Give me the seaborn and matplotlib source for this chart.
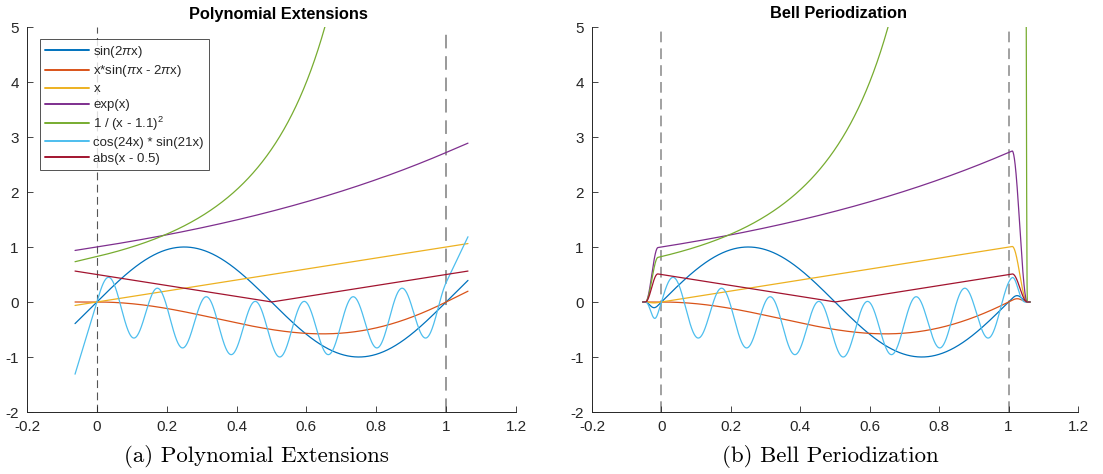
import numpy as np
import pandas as pd
import matplotlib
matplotlib.use("Agg")
import matplotlib.pyplot as plt
import seaborn as sns

# Test functions (legend text and the expression each one plots)
labels = [r"sin(2$\pi$x)", r"x*sin($\pi$x - 2$\pi$x)", "x", "exp(x)",
          r"1 / (x - 1.1)$^2$", "cos(24x) * sin(21x)", "abs(x - 0.5)"]
funcs = [
    lambda x: np.sin(2 * np.pi * x),
    lambda x: x * np.sin(np.pi * x - 2 * np.pi * x),
    lambda x: x,
    lambda x: np.exp(x),
    lambda x: 1.0 / (x - 1.1) ** 2,
    lambda x: np.cos(24 * x) * np.sin(21 * x),
    lambda x: np.abs(x - 0.5),
]
colors = ["#0072BD", "#D95319", "#EDB120", "#7E2F8E", "#77AC30", "#4DBEEE", "#A2142F"]

# Extended domain and bell taper settings
ext_left, ext_right = -0.0625, 1.0625
bell_start, bell_end = -0.054, 1.062
rise = (-0.046, -0.010)
fall = (1.010, 1.054)

xticks = [-0.2, 0, 0.2, 0.4, 0.6, 0.8, 1, 1.2]
xticklabels = ["-0.2", "0", "0.2", "0.4", "0.6", "0.8", "1", "1.2"]
yticks = [-2, -1, 0, 1, 2, 3, 4, 5]
yticklabels = ["-2", "-1", "0", "1", "2", "3", "4", "5"]
titles = ["Polynomial Extensions", "Bell Periodization"]
captions = ["(a) Polynomial Extensions", "(b) Bell Periodization"]

sns.set_theme(style="white")
plt.rcParams["font.family"] = ["Liberation Sans", "DejaVu Sans"]
plt.rcParams["axes.unicode_minus"] = False
plt.rcParams["mathtext.fontset"] = "custom"
plt.rcParams["mathtext.rm"] = "Liberation Sans"
plt.rcParams["mathtext.it"] = "Liberation Sans:italic"


def deriv(f, x0, h=1e-6):
    return (f(x0 + h) - f(x0 - h)) / (2 * h)


def linear_extension(f):
    xl = np.linspace(ext_left, 0.0, 60)
    xc = np.linspace(0.0, 1.0, 2000)
    xr = np.linspace(1.0, ext_right, 60)
    yl = f(0.0) + deriv(f, 0.0) * xl
    yr = f(1.0) + deriv(f, 1.0) * (xr - 1.0)
    return np.concatenate([xl, xc, xr]), np.concatenate([yl, f(xc), yr])


def bell(x):
    b = np.ones_like(x)
    t = np.clip((x - rise[0]) / (rise[1] - rise[0]), 0, 1)
    b = np.where(x < rise[1], np.sin(np.pi / 2 * t) ** 2, b)
    t = np.clip((fall[1] - x) / (fall[1] - fall[0]), 0, 1)
    b = np.where(x > fall[0], np.sin(np.pi / 2 * t) ** 2, b)
    return b


fig = plt.figure(figsize=(11.03, 4.74), dpi=100)
W, H = 1103, 474
rects = [(27, 516), (592, 1078)]
top_px, bot_px = 27, 412
axes = []
for (l, r) in rects:
    ax = fig.add_axes([l / W, 1 - bot_px / H, (r - l) / W, (bot_px - top_px) / H])
    axes.append(ax)

ax_l, ax_r = axes

for lab, f, c in zip(labels, funcs, colors):
    x, y = linear_extension(f)
    df = pd.DataFrame({"x": x, "y": y})
    sns.lineplot(data=df, x="x", y="y", ax=ax_l, color=c, lw=0.9,
                 label=lab, sort=False, estimator=None)

xb = np.linspace(bell_start, bell_end, 6000)
for lab, f, c in zip(labels, funcs, colors):
    df = pd.DataFrame({"x": xb, "y": f(xb) * bell(xb)})
    sns.lineplot(data=df, x="x", y="y", ax=ax_r, color=c, lw=0.9,
                 sort=False, estimator=None, legend=False)

ax_l.axvline(0, color="#555555", lw=0.8, ls=(0, (7, 4)), zorder=0)
ax_l.axvline(1, color="#999999", lw=1.4, ls=(0, (7, 4)), zorder=0)
ax_r.axvline(0, color="#888888", lw=1.1, ls=(0, (7, 4)), zorder=0)
ax_r.axvline(1, color="#888888", lw=1.1, ls=(0, (7, 4)), zorder=0)

for ax in axes:
    ax.set_xlim(-0.2, 1.2)
    ax.set_ylim(-2, 5)
    ax.set_xticks(xticks)
    ax.set_xticklabels(xticklabels)
    ax.set_yticks(yticks)
    ax.set_yticklabels(yticklabels)
    ax.set_xlabel("")
    ax.set_ylabel("")
    for s in ["top", "right"]:
        ax.spines[s].set_visible(False)
    for s in ["left", "bottom"]:
        ax.spines[s].set_color("#262626")
        ax.spines[s].set_linewidth(0.7)
    ax.tick_params(direction="in", length=4, width=0.6, color="#262626",
                   labelsize=11, labelcolor="#262626", pad=6,
                   bottom=True, left=True)
    ax.patch.set_alpha(0)

leg = ax_l.legend(loc="upper left", bbox_to_anchor=(13 / 489, 1 - 12 / 385),
                  fontsize=9.5, frameon=True, fancybox=False, handlelength=3.4,
                  handletextpad=0.3, borderpad=0.35, labelspacing=0.28,
                  borderaxespad=0)
leg.get_frame().set_edgecolor("#262626")
leg.get_frame().set_linewidth(0.7)
for h in leg.get_lines():
    h.set_linewidth(1.4)

title_x = [278, 839]
cap_x = [256, 830]
for i in range(2):
    fig.text(title_x[i] / W, 1 - 14 / H, titles[i], ha="center", va="center",
             fontsize=11.8, fontweight="bold", color="black")
    fig.text(cap_x[i] / W, 1 - 457 / H, captions[i], ha="center", va="center",
             fontsize=16.5, family="cmr10", color="black")

fig.savefig("out.png", dpi=100)
